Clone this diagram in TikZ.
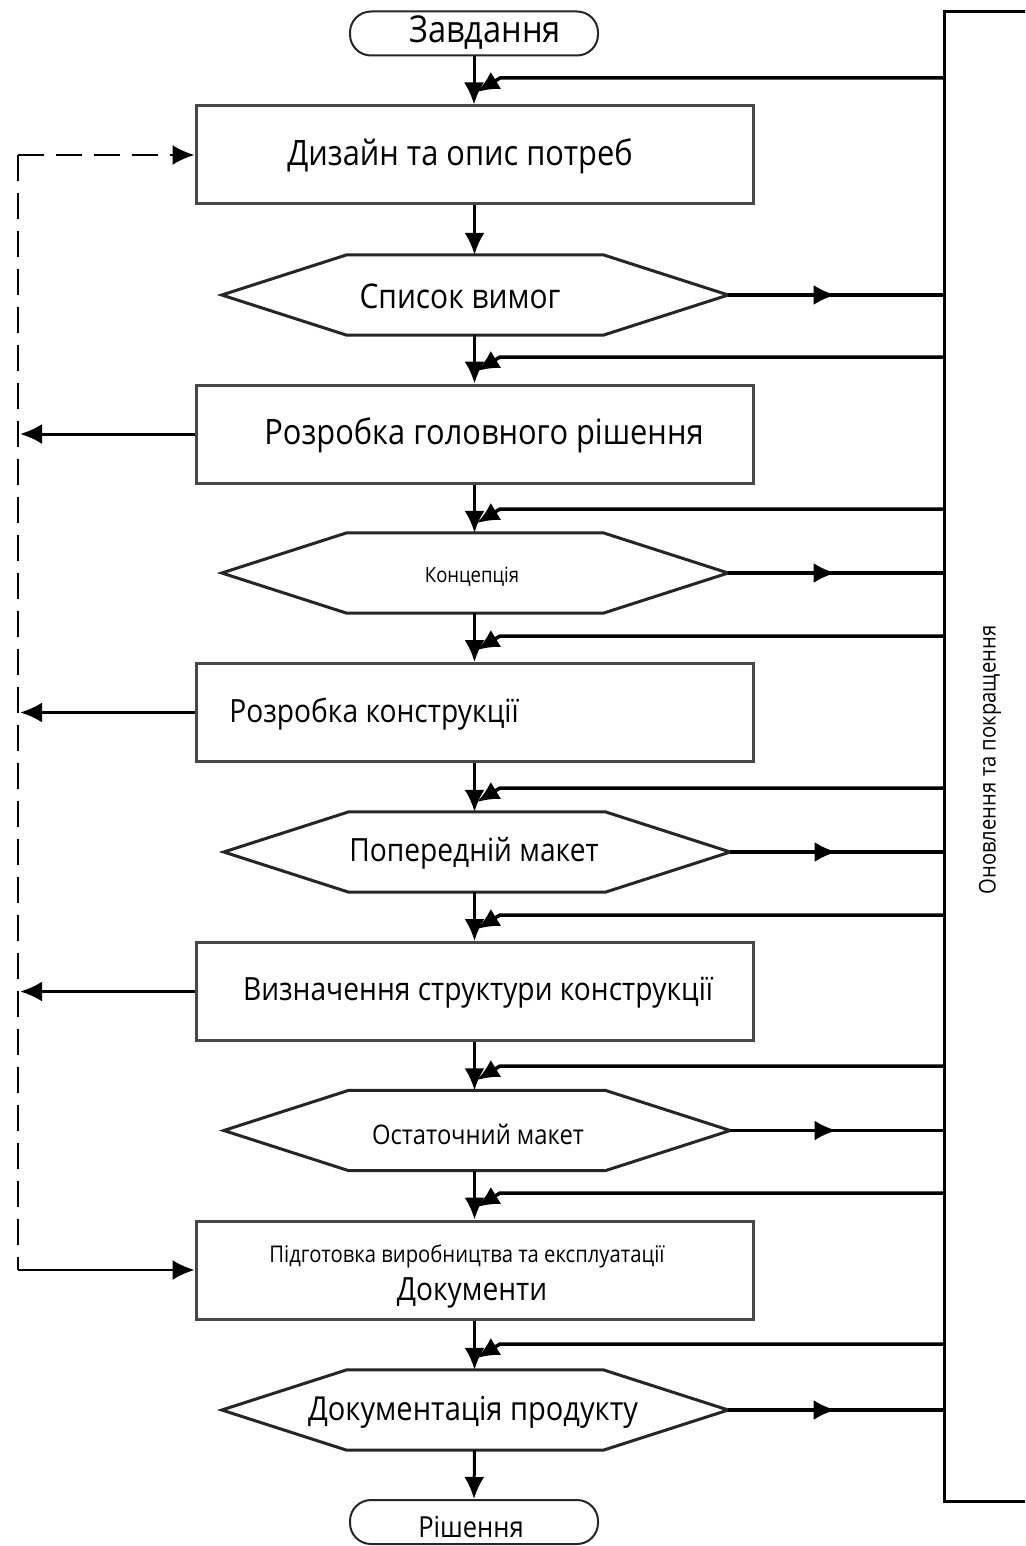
\documentclass[tikz,border=0pt]{standalone}
\usepackage{fontspec}
\setmainfont{Open Sans}[FakeStretch=0.88]
\usetikzlibrary{arrows.meta,decorations.markings}
\newcommand\hexline[1]{\draw[hexline] (#1.west) -- ([xshift=125pt]#1.north west) -- ([xshift=-125pt]#1.north east) -- (#1.east) -- ([xshift=-125pt]#1.south east) -- ([xshift=125pt]#1.south west) -- cycle;}
\begin{document}
\begin{tikzpicture}[x=1pt,y=-1pt,
  box/.style={draw=black!72, line width=3pt, minimum width=557pt, minimum height=98pt, inner sep=0pt},
  hexbox/.style={minimum width=506pt, minimum height=80pt, inner sep=0pt},
  hexline/.style={line width=3pt, draw=black!85, line join=miter},
  term/.style={draw=black!85, line width=2pt, rounded corners=21pt, minimum width=248pt, minimum height=44pt, inner sep=0pt},
  tip/.style={-{Latex[length=22pt,width=20pt]}},
  flow/.style={line width=3pt, tip},
  outarrow/.style={line width=3.5pt, postaction={decorate}, decoration={markings, mark=at position 0.5 with {\arrow{Latex[length=22pt,width=20pt]}}}},
  fs/.style={font=\fontsize{#1}{#1}\selectfont},
  dashline/.style={line width=2.5pt, dash pattern=on 26pt off 12pt}
]
\useasboundingbox (0,0) rectangle (1025,1546);
\clip (0,0) rectangle (1025,1546);
\fill[white] (0,0) rectangle (1025,1546);

% side bar
\node[draw, line width=3pt, anchor=north west, minimum width=150pt, minimum height=1490pt, inner sep=0pt] (bar) at (943,10) {};
\node[fs=23, rotate=90] (bartext) at (990,760) {Оновлення та покращення};
\coordinate (dl) at (18,0);

% terminals
\node[term] (s) at (474,33.5) {};
\node[fs=37] (st) at (485,33) {Завдання};
\node[term] (e) at (474,1522) {};
\node[fs=29] (et) at (471,1527) {Рішення};

% boxes
\node[box] (b1) at (474.5,155) {};
\node[fs=35] (t1) at (460,156) {Дизайн та опис потреб};
\node[box] (b2) at (474.5,434) {};
\node[fs=35] (t2) at (484,435) {Розробка головного рішення};
\node[box] (b3) at (474.5,712.5) {};
\node[fs=32] (t3) at (374,714) {Розробка конструкції};
\node[box] (b4) at (474.5,991.5) {};
\node[fs=32] (t4) at (478,993) {Визначення структури конструкції};
\node[box] (b5) at (474.5,1270) {};
\node[fs=23] (t5a) at (467,1256) {Підготовка виробництва та експлуатації};
\node[fs=32] (t5b) at (472,1293) {Документи};

% hexagons
\node[hexbox] (h1) at (475,295) {}; \hexline{h1}
\node[fs=34] (u1) at (460,296) {Список вимог};
\node[hexbox] (h2) at (475,573) {}; \hexline{h2}
\node[fs=21] (u2) at (472,577) {Концепція};
\node[hexbox] (h3) at (477,852) {}; \hexline{h3}
\node[fs=32] (u3) at (474,853) {Попередній макет};
\node[hexbox] (h4) at (477,1130.5) {}; \hexline{h4}
\node[fs=27] (u4) at (478,1134) {Остаточний макет};
\node[hexbox] (h5) at (475,1410) {}; \hexline{h5}
\node[fs=33] (u5) at (473,1412) {Документація продукту};

% main flow
\draw[flow] (s.south) -- (s.south |- b1.north);
\draw[flow] (b1.south) -- (b1.south |- h1.north);
\draw[flow] (h1.south -| b1.south) -- (b2.north);
\draw[flow] (b2.south) -- (b2.south |- h2.north);
\draw[flow] (h2.south -| b2.south) -- (b3.north);
\draw[flow] (b3.south) -- (b3.south |- h3.north);
\draw[flow] (h3.south -| b3.south) -- (b4.north);
\draw[flow] (b4.south) -- (b4.south |- h4.north);
\draw[flow] (h4.south -| b4.south) -- (b5.north);
\draw[flow] (b5.south) -- (b5.south |- h5.north);
\draw[flow] (h5.south -| b5.south) -- (e.north);

% feedback from bar
\foreach \y in {78,357,509,636,788,915,1066,1193,1344}{
  \draw[line width=3.5pt, tip] (bar.west |- 0,\y) -- (500,\y) -- (477,\y+14);
}

% outputs to bar
\foreach \h in {h1,h2,h3,h4,h5}{
  \draw[outarrow] (\h.east) -- (\h.east -| bar.west);
}

% left side
\draw[dashline] (b1.west -| dl) -- (b5.west -| dl);
\draw[dashline, tip] (b1.west -| dl) -- (b1.west);
\draw[line width=2.5pt, tip] (b5.west -| dl) -- (b5.west);
\foreach \b in {b2,b3,b4}{
  \draw[line width=3pt, tip] (\b.west) -- ([xshift=2pt]\b.west -| dl);
}
\end{tikzpicture}
\end{document}
